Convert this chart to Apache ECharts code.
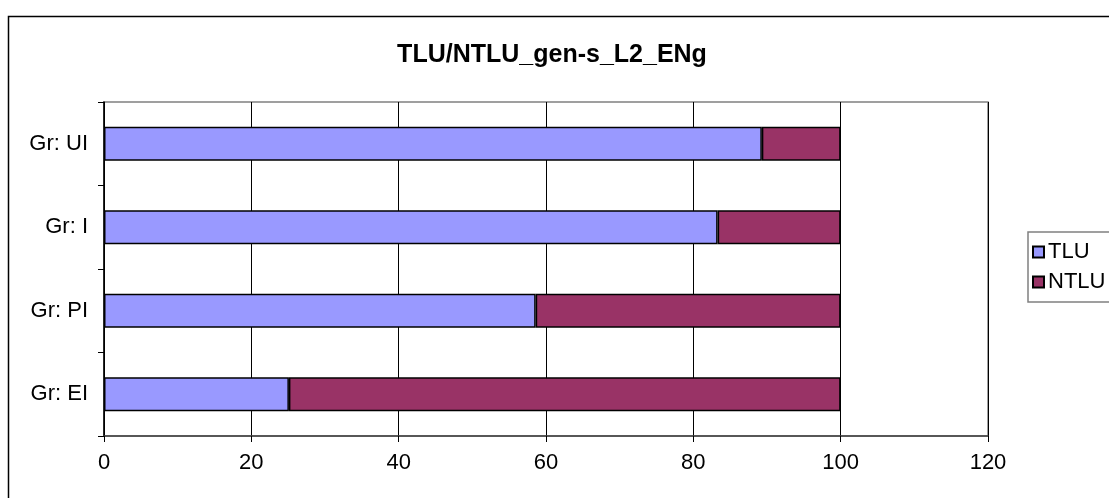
<!DOCTYPE html>
<html>
<head>
<meta charset="utf-8">
<script src="https://cdn.jsdelivr.net/npm/echarts@6/dist/echarts.min.js"></script>
<style>
html,body{margin:0;padding:0;background:#fff;}
#chart{width:1109px;height:498px;}
</style>
</head>
<body>
<div id="chart"></div>
<script>
const titleText = 'TLU/NTLU_gen-s_L2_ENg';
const categories = ['Gr: EI', 'Gr: PI', 'Gr: I', 'Gr: UI'];
const tluValues = [25.1, 58.6, 83.3, 89.3];
const ntluValues = [74.9, 41.4, 16.7, 10.7];
const seriesNames = ['TLU', 'NTLU'];
const xTicks = [0, 20, 40, 60, 80, 100, 120];

const chart = echarts.init(document.getElementById('chart'));
const font = 'Liberation Sans, Arial, sans-serif';
chart.setOption({
  animation: false,
  backgroundColor: '#fff',
  graphic: [{
    type: 'rect',
    shape: {x: 8.5, y: 16.5, width: 1120, height: 500},
    style: {fill: 'none', stroke: '#000', lineWidth: 1.5},
    z: 0
  }],
  title: {
    text: titleText,
    left: 547, top: 38, textAlign: 'center',
    textStyle: {fontFamily: font, fontSize: 25, fontWeight: 'bold', color: '#000'}
  },
  legend: {
    orient: 'vertical',
    left: 1028, top: 232,
    padding: [9, 30, 9, 4],
    itemGap: 8,
    itemWidth: 11, itemHeight: 11,
    icon: 'rect',
    borderColor: '#808080', borderWidth: 1.5,
    textStyle: {fontFamily: font, fontSize: 22, color: '#000', padding: [0, 0, 0, -1]},
    data: seriesNames
  },
  grid: {
    left: 104, right: 121, top: 102, bottom: 62,
    show: true, borderColor: '#808080', borderWidth: 1.5, backgroundColor: 'transparent'
  },
  xAxis: {
    type: 'value', min: 0, max: 120, interval: 20,
    axisLine: {show: true, lineStyle: {color: '#404040', width: 1.5}},
    axisTick: {show: true, length: 6, lineStyle: {color: '#000'}},
    splitLine: {show: true, lineStyle: {color: '#000', width: 1}},
    axisLabel: {
      fontFamily: font, fontSize: 22, color: '#000', margin: 16,
      formatter: function (v) { return xTicks.indexOf(v) >= 0 ? String(v) : ''; }
    }
  },
  yAxis: {
    type: 'category', data: categories,
    axisLine: {show: true, lineStyle: {color: '#000', width: 1.5}},
    axisTick: {show: true, length: 6, alignWithLabel: false, lineStyle: {color: '#000'}},
    axisLabel: {fontFamily: font, fontSize: 22, color: '#000', margin: 16}
  },
  series: [
    {
      name: seriesNames[0], type: 'bar', stack: 's', barWidth: 34,
      data: tluValues,
      itemStyle: {color: '#9999FF', borderColor: '#000', borderWidth: 1.5}
    },
    {
      name: seriesNames[1], type: 'bar', stack: 's', barWidth: 34,
      data: ntluValues,
      itemStyle: {color: '#993366', borderColor: '#000', borderWidth: 1.5}
    }
  ]
});
</script>
</body>
</html>
